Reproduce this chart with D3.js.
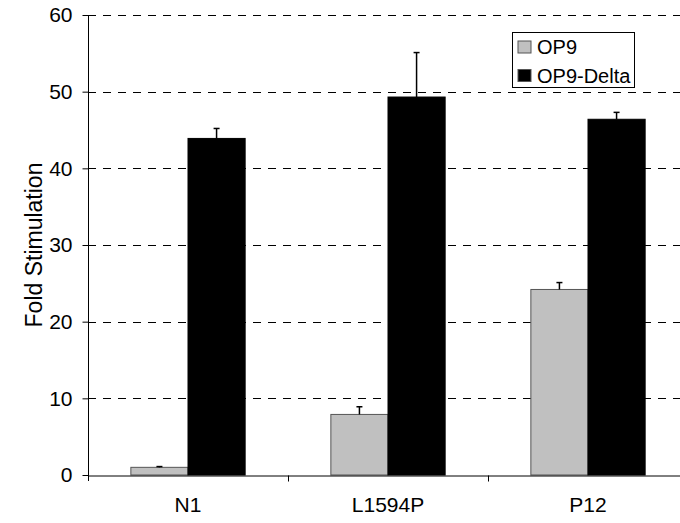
<!DOCTYPE html>
<html>
<head>
<meta charset="utf-8">
<script src="https://cdn.jsdelivr.net/npm/d3@7"></script>
<style>
  body { margin: 0; background: #fff; }
  svg { display: block; font-family: "Liberation Sans", Arial, sans-serif; }
</style>
</head>
<body>
<div id="chart"></div>
<script>
// data
var categories = ["N1", "L1594P", "P12"];
var series = ["OP9", "OP9-Delta"];
var op9 = [1.0, 7.9, 24.2];
var op9Err = [0.1, 1.0, 0.9];
var delta = [43.9, 49.3, 46.4];
var deltaErr = [1.3, 5.8, 0.9];
var yTicks = [0, 10, 20, 30, 40, 50, 60];

var W = 680, H = 523;
var margin = {top: 15, left: 88};
var plotBottom = 475;
var catWidth = 200;

var svg = d3.select("#chart").append("svg")
  .attr("width", W)
  .attr("height", H);

var data = categories.map(function(c, i) {
  return {cat: c, values: [
    {key: series[0], value: op9[i], err: op9Err[i]},
    {key: series[1], value: delta[i], err: deltaErr[i]}
  ]};
});

var x = d3.scaleBand()
  .domain(categories)
  .range([margin.left, margin.left + catWidth * categories.length])
  .padding(0);

// excel style gap width 150%
var gapRatio = 1.5;
var barW = x.bandwidth() / (series.length + gapRatio);
var xSub = d3.scaleBand()
  .domain(series)
  .range([barW * gapRatio / 2, x.bandwidth() - barW * gapRatio / 2])
  .padding(0);

var y = d3.scaleLinear()
  .domain([0, 60])
  .range([plotBottom, margin.top]);

var color = d3.scaleOrdinal()
  .domain(series)
  .range(["#c0c0c0", "#000000"]);

// dashed gridlines
svg.append("g")
  .selectAll("line")
  .data(yTicks.filter(function(t) { return t > 0; }))
  .enter().append("line")
    .attr("x1", margin.left)
    .attr("x2", W)
    .attr("y1", function(d) { return Math.round(y(d)) + 0.5; })
    .attr("y2", function(d) { return Math.round(y(d)) + 0.5; })
    .attr("stroke", "#000")
    .attr("stroke-width", 1)
    .attr("stroke-dasharray", "8,7");

// bars
var groups = svg.append("g")
  .selectAll("g")
  .data(data)
  .enter().append("g")
    .attr("transform", function(d) { return "translate(" + x(d.cat) + ",0)"; });

groups.selectAll("rect")
  .data(function(d) { return d.values; })
  .enter().append("rect")
    .attr("x", function(d) { return xSub(d.key); })
    .attr("y", function(d) { return y(d.value); })
    .attr("width", xSub.bandwidth())
    .attr("height", function(d) { return plotBottom - y(d.value); })
    .attr("fill", function(d) { return color(d.key); })
    .attr("stroke", function(d) { return d.key === "OP9" ? "#555" : "#000"; })
    .attr("stroke-width", 1);

// error bars (upper only)
var eb = groups.selectAll("g.err")
  .data(function(d) { return d.values; })
  .enter().append("g")
    .attr("class", "err");

eb.append("line")
  .attr("x1", function(d) { return xSub(d.key) + xSub.bandwidth() / 2; })
  .attr("x2", function(d) { return xSub(d.key) + xSub.bandwidth() / 2; })
  .attr("y1", function(d) { return y(d.value); })
  .attr("y2", function(d) { return y(d.value + d.err); })
  .attr("stroke", "#000")
  .attr("stroke-width", 1.5);

eb.append("line")
  .attr("x1", function(d) { return xSub(d.key) + xSub.bandwidth() / 2 - 3; })
  .attr("x2", function(d) { return xSub(d.key) + xSub.bandwidth() / 2 + 3; })
  .attr("y1", function(d) { return y(d.value + d.err); })
  .attr("y2", function(d) { return y(d.value + d.err); })
  .attr("stroke", "#000")
  .attr("stroke-width", 1.5);

// y axis
var yAxis = svg.append("g")
  .attr("transform", "translate(" + (margin.left + 0.5) + ",0)")
  .call(d3.axisLeft(y).tickValues(yTicks).tickSize(6).tickSizeOuter(0).tickPadding(10));
yAxis.select(".domain").attr("stroke", "#000").attr("d", "M0," + margin.top + "V" + (plotBottom + 6));
yAxis.selectAll("text").attr("font-size", 21).attr("fill", "#000");

// x axis
var xAxis = svg.append("g")
  .attr("transform", "translate(0," + (plotBottom + 0.5) + ")")
  .call(d3.axisBottom(x).tickSize(0).tickPadding(22));
xAxis.select(".domain").attr("stroke", "#000");
xAxis.selectAll("text").attr("font-size", 21).attr("fill", "#000");
// category boundary ticks
xAxis.append("g")
  .selectAll("line")
  .data(categories.slice(1))
  .enter().append("line")
    .attr("x1", function(d) { return Math.round(x(d)) + 0.5; })
    .attr("x2", function(d) { return Math.round(x(d)) + 0.5; })
    .attr("y1", 0)
    .attr("y2", 6)
    .attr("stroke", "#000");

// axis title
svg.append("text")
  .attr("transform", "translate(34," + ((margin.top + plotBottom) / 2) + ") rotate(-90)")
  .attr("text-anchor", "middle")
  .attr("dominant-baseline", "central")
  .attr("font-size", 23)
  .text("Fold Stimulation");

// legend
var legend = svg.append("g").attr("transform", "translate(512,32)");
legend.append("rect")
  .attr("x", 0.5).attr("y", 0.5)
  .attr("width", 122).attr("height", 55)
  .attr("fill", "#fff")
  .attr("stroke", "#000");

var li = legend.selectAll("g.item")
  .data(series)
  .enter().append("g")
    .attr("class", "item")
    .attr("transform", function(d, i) { return "translate(6," + (9 + i * 28.5) + ")"; });

li.append("rect")
  .attr("width", 13).attr("height", 12)
  .attr("fill", function(d) { return color(d); })
  .attr("stroke", "#555");

li.append("text")
  .attr("x", 19)
  .attr("y", 13)
  .attr("font-size", 20)
  .text(function(d) { return d; });
</script>
</body>
</html>
